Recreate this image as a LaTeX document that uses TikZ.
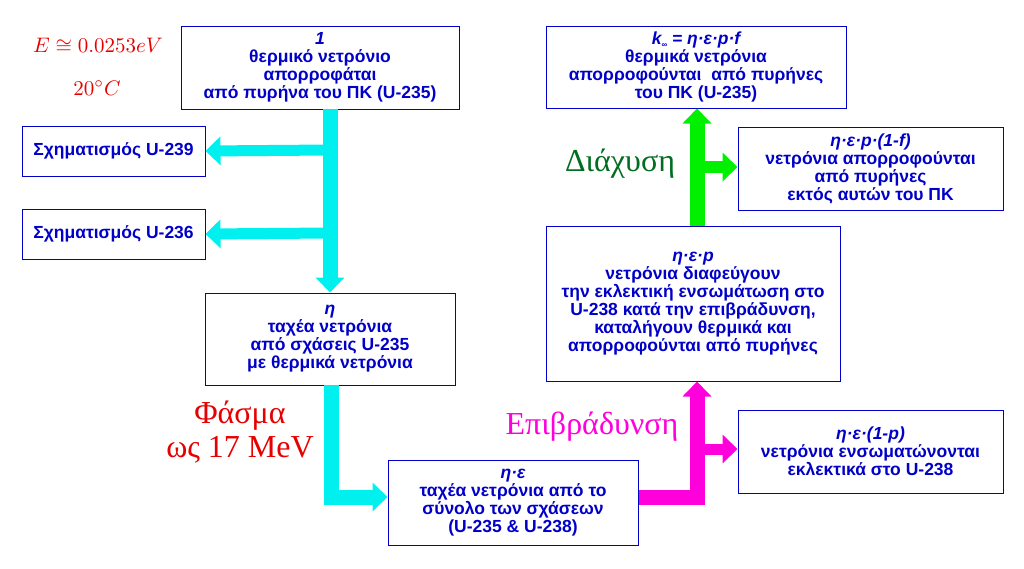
\documentclass[tikz,border=0pt]{standalone}
\usepackage{fontspec}
\setmainfont{Liberation Sans}
\newfontfamily\serifgr{Liberation Serif}
\usetikzlibrary{arrows.meta}
\definecolor{tblue}{RGB}{0,0,200}
\definecolor{dgreen}{RGB}{0,110,30}
\definecolor{aqua}{RGB}{0,240,240}
\definecolor{mag}{RGB}{255,0,220}
\definecolor{grn}{RGB}{0,240,0}
\definecolor{rd}{RGB}{230,0,0}
\begin{document}
\begin{tikzpicture}[x=1pt,y=-1pt,
  bx/.style={draw=tblue,line width=1pt,text=tblue,font=\bfseries\fontsize{17.5}{18}\selectfont,align=center,inner sep=0pt},
  fat/.style={line width=15pt,-{Triangle[width=28pt,length=15pt]}},
  lbl/.style={font=\serifgr\fontsize{32}{34}\selectfont,align=center}]
\useasboundingbox (0,0) rectangle (1024,568);
\node[bx,minimum width=278,minimum height=83] (a) at (320,67.5) {\itshape 1\\θερμικό νετρόνιο\\απορροφάται\\από πυρήνα του ΠΚ (U-235)};
\node[bx,minimum width=183,minimum height=50] (b) at (113.5,151) {Σχηματισμός U-239};
\node[bx,minimum width=183,minimum height=50] (c) at (113.5,234) {Σχηματισμός U-236};
\node[bx,minimum width=250,minimum height=92] (d) at (330,339) {\itshape η\\ταχέα νετρόνια\\από σχάσεις U-235\\με θερμικά νετρόνια};
\node[bx,minimum width=250,minimum height=85] (e) at (513,502.5) {\itshape η·ε\\ταχέα νετρόνια από το\\σύνολο των σχάσεων\\(U-235 \& U-238)};
\node[bx,minimum width=294,minimum height=155] (f) at (693,303.5) {\itshape η·ε·p\\νετρόνια διαφεύγουν\\την εκλεκτική ενσωμάτωση στο\\U-238 κατά την επιβράδυνση,\\καταλήγουν θερμικά και\\απορροφούνται από πυρήνες};
\node[bx,minimum width=300,minimum height=82] (g) at (696,67) {{\itshape k}\raisebox{-3pt}{\fontsize{8}{8}\selectfont ∞} {\itshape = η·ε·p·f}\\θερμικά νετρόνια\\απορροφούνται\ \ από πυρήνες\\του ΠΚ (U-235)};
\node[bx,minimum width=265,minimum height=83] (h) at (870.5,168.5) {\itshape η·ε·p·(1-f)\\νετρόνια απορροφούνται\\από πυρήνες\\εκτός αυτών του ΠΚ};
\node[bx,minimum width=265,minimum height=83] (i) at (870.5,451.5) {\itshape η·ε·(1-p)\\νετρόνια ενσωματώνονται\\εκλεκτικά στο U-238};
% cyan
\coordinate (c1) at (330,150); \coordinate (c2) at (330,233);
\draw[fat,aqua] (330,109) -- (d.north);
\draw[fat,aqua,line width=11pt] (c1) -- (b.east);
\draw[fat,aqua,line width=11pt] (c2) -- (c.east);
\coordinate (c3) at (331,497);
\draw[aqua,line width=15pt] (331,385) -- ([yshift=-7.5pt]c3);
\draw[fat,aqua] ([xshift=-7.5pt]c3) -- (e.west|-c3);
% magenta
\coordinate (m1) at (697,497);
\draw[mag,line width=15pt] (e.east|-m1) -- ([xshift=7.5pt]m1);
\draw[fat,mag] ([yshift=7.5pt]m1) -- (f.south-|m1);
\coordinate (m2) at (697,449);
\draw[fat,mag,line width=11pt] (m2) -- (i.west|-m2);
% green
\coordinate (g1) at (697,226); \coordinate (g2) at (697,167);
\draw[fat,grn] (g1) -- (g.south-|g1);
\draw[fat,grn,line width=12pt] (g2) -- (h.west|-g2);
% labels
\node[text=rd] (l1) at (98,46) {\scalebox{2.1}{$E\cong 0.0253eV$}};
\node[text=rd] (l2) at (97,88) {\scalebox{2.1}{$20^\circ C$}};
\node[lbl,text=rd] (l3) at (240,432) {Φάσμα\\ως 17 MeV};
\node[lbl,text=mag] (l4) at (592,427) {Επιβράδυνση};
\node[lbl,text=dgreen] (l5) at (620,164) {Διάχυση};
\end{tikzpicture}
\end{document}
